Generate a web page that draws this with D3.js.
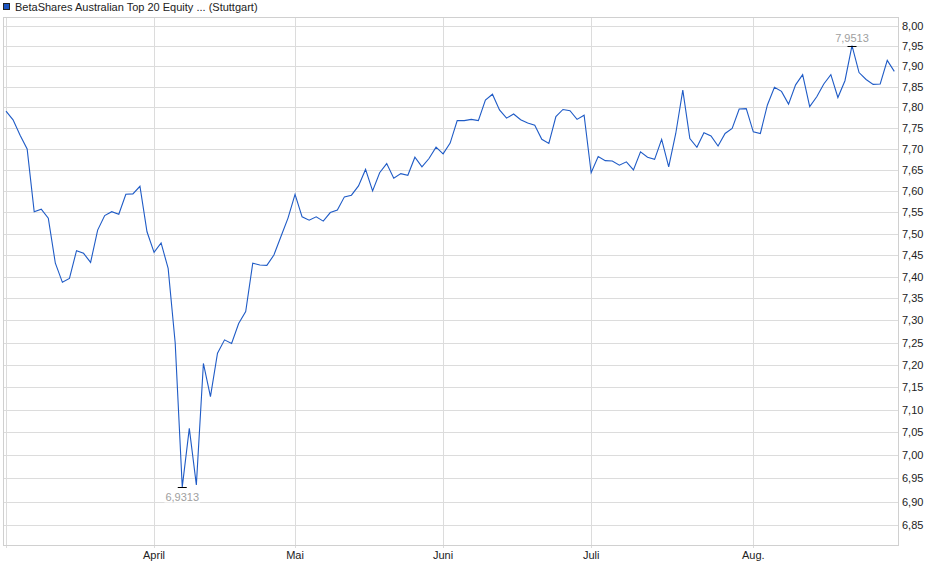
<!DOCTYPE html>
<html>
<head>
<meta charset="utf-8">
<script src="https://cdn.jsdelivr.net/npm/d3@7"></script>
<style>
  body { margin: 0; background: #fff; }
  text { font-family: "Liberation Sans", Arial, sans-serif; font-size: 11px; }
</style>
</head>
<body>
<svg id="chart" width="940" height="579"></svg>
<script>
"use strict";

/**
 * Price chart of the BetaShares Australian Top 20 Equity ETF (Stuttgart), March - August.
 */

const title = "BetaShares Australian Top 20 Equity ... (Stuttgart)";

// Closing prices, one value per trading day, grouped by month
const pricesMar = [7.791, 7.770, 7.733, 7.700, 7.551, 7.557, 7.536, 7.431, 7.387, 7.396, 7.460,
  7.454, 7.433, 7.508, 7.542, 7.551, 7.545, 7.592, 7.593, 7.611, 7.504];
const pricesApr = [7.456, 7.478, 7.419, 7.249, 6.9313, 7.059, 6.936, 7.203, 7.129, 7.226,
  7.256, 7.248, 7.293, 7.320, 7.431, 7.427, 7.426, 7.450, 7.493, 7.536];
const pricesMai = [7.592, 7.539, 7.531, 7.539, 7.529, 7.549, 7.555, 7.586, 7.590, 7.612, 7.651,
  7.600, 7.643, 7.665, 7.630, 7.641, 7.637, 7.680, 7.657, 7.677, 7.704];
const pricesJun = [7.688, 7.714, 7.768, 7.768, 7.771, 7.768, 7.818, 7.832, 7.794, 7.774, 7.784,
  7.770, 7.762, 7.757, 7.723, 7.713, 7.778, 7.795, 7.792, 7.771, 7.781];
const pricesJul = [7.643, 7.682, 7.672, 7.671, 7.661, 7.669, 7.650, 7.693, 7.680, 7.675, 7.723,
  7.657, 7.737, 7.842, 7.725, 7.704, 7.739, 7.731, 7.707, 7.737, 7.749, 7.796, 7.797];
const pricesAug = [7.741, 7.737, 7.806, 7.849, 7.839, 7.808, 7.855, 7.880, 7.802, 7.826, 7.857,
  7.880, 7.824, 7.865, 7.9513, 7.885, 7.868, 7.856, 7.857, 7.915, 7.888];

// Month labels of the x axis (the first month has a gridline but no label)
const monthLabels = ["", "April", "Mai", "Juni", "Juli", "Aug."];

// Price levels of the right axis
const yTicks = [6.85, 6.90, 6.95, 7.00, 7.05, 7.10, 7.15, 7.20, 7.25, 7.30, 7.35, 7.40,
  7.45, 7.50, 7.55, 7.60, 7.65, 7.70, 7.75, 7.80, 7.85, 7.90, 7.95, 8.00];

const months = [pricesMar, pricesApr, pricesMai, pricesJun, pricesJul, pricesAug];
const prices = months.flat();

// Index of the first trading day of each month
let monthStarts = [];
months.reduce((start, m) => { monthStarts.push(start); return start + m.length; }, 0);

const plot = { left: 3, right: 898, top: 17, bottom: 545 };
const lineColor = "#1f5bc6";
const gridColor = "#dcdcdc";
const formatPrice = v => d3.format(".2f")(v).replace(".", ",");
const formatExtreme = v => d3.format(".4f")(v).replace(".", ",");

const svg = d3.select("#chart");

const x = d3.scaleLinear()
  .domain([0, prices.length - 1])
  .range([6, 894.3]);

const y = d3.scaleLog()
  .domain([6.85, 8.00])
  .range([525, 26]);

/**
 * Draws the grid, the frame and both axes.
 */
function drawAxes(g) {
  g.append("g")
    .selectAll("line")
    .data(yTicks)
    .enter()
    .append("line")
      .attr("x1", plot.left)
      .attr("x2", plot.right)
      .attr("y1", d => Math.round(y(d)) + 0.5)
      .attr("y2", d => Math.round(y(d)) + 0.5)
      .attr("stroke", gridColor);

  g.append("g")
    .selectAll("line")
    .data(monthStarts)
    .enter()
    .append("line")
      .attr("x1", d => Math.round(x(d)) + 0.5)
      .attr("x2", d => Math.round(x(d)) + 0.5)
      .attr("y1", plot.top)
      .attr("y2", plot.bottom + 3)
      .attr("stroke", gridColor);

  g.append("rect")
    .attr("x", plot.left + 0.5)
    .attr("y", plot.top + 0.5)
    .attr("width", plot.right - plot.left)
    .attr("height", plot.bottom - plot.top)
    .attr("fill", "none")
    .attr("stroke", "#d0d0d0");

  // Right axis labels
  g.append("g")
    .selectAll("text")
    .data(yTicks)
    .enter()
    .append("text")
      .attr("x", 902)
      .attr("y", d => y(d) + 4)
      .attr("fill", "#222")
      .text(formatPrice);

  // Month labels, centered on their gridline
  g.append("g")
    .selectAll("text")
    .data(monthStarts)
    .enter()
    .append("text")
      .attr("x", d => x(d))
      .attr("y", 559)
      .attr("text-anchor", "middle")
      .attr("fill", "#222")
      .text((d, i) => monthLabels[i]);
}

/**
 * Draws the price line with the min and max markers.
 */
function drawLine(g) {
  let line = d3.line()
    .x((d, i) => x(i))
    .y(d => y(d));

  g.append("path")
    .datum(prices)
    .attr("d", line)
    .attr("fill", "none")
    .attr("stroke", lineColor)
    .attr("stroke-width", 1.1);

  let extremes = [
    { i: d3.minIndex(prices), dy: 13 },
    { i: d3.maxIndex(prices), dy: -5 }
  ];

  extremes.forEach(e => {
    let px = x(e.i), py = Math.round(y(prices[e.i])) + 0.5;
    let label = g.append("g");

    label.append("line")
      .attr("x1", px - 4.5)
      .attr("x2", px + 4.5)
      .attr("y1", py)
      .attr("y2", py)
      .attr("stroke", "#000");

    let t = label.append("text")
      .attr("x", px)
      .attr("y", py + e.dy)
      .attr("text-anchor", "middle")
      .attr("fill", "#a0a0a0")
      .text(formatExtreme(prices[e.i]));

    // White box behind the value so the gridlines do not cross it
    let box = t.node().getBBox();
    label.insert("rect", "text")
      .attr("x", box.x - 1)
      .attr("y", box.y)
      .attr("width", box.width + 2)
      .attr("height", box.height)
      .attr("fill", "#fff");
  });
}

/**
 * Draws the legend entry at the top left.
 */
function drawLegend(g) {
  g.append("rect")
    .attr("x", 3.5)
    .attr("y", 3.5)
    .attr("width", 6)
    .attr("height", 6)
    .attr("fill", "#1c55c2")
    .attr("stroke", "#222");

  g.append("text")
    .attr("x", 15)
    .attr("y", 11)
    .attr("fill", "#222")
    .text(title);
}

drawAxes(svg.append("g"));
drawLine(svg.append("g"));
drawLegend(svg.append("g"));
</script>
</body>
</html>
